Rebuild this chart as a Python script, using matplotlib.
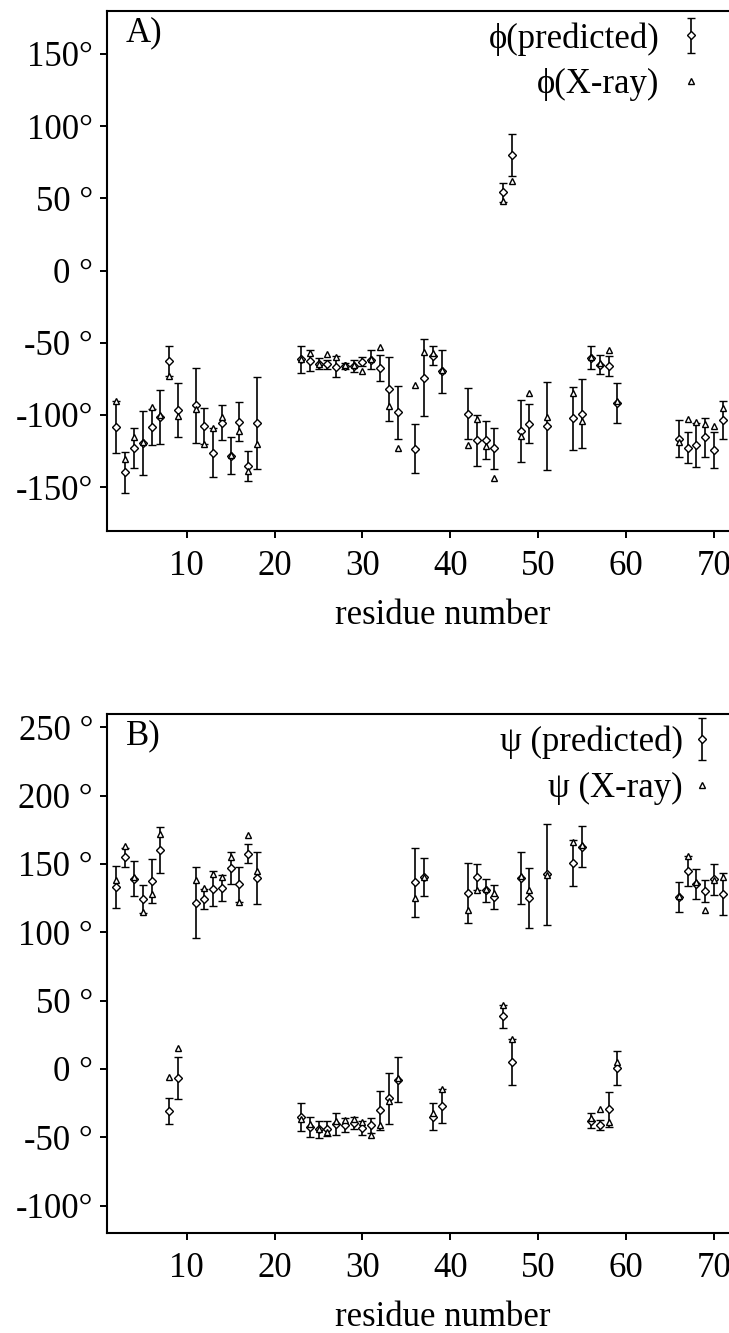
import matplotlib
matplotlib.use("Agg")
import matplotlib.pyplot as plt
from matplotlib.container import ErrorbarContainer
from matplotlib.legend_handler import HandlerErrorbar

plt.rcParams['font.family'] = ['Liberation Serif', 'DejaVu Serif']
plt.rcParams['font.size'] = 25

# ---- panel A: phi angles (degrees) ----
phi_res = [2, 3, 4, 5, 6, 7, 8, 9, 11, 12, 13, 14, 15, 16, 17, 18,
           23, 24, 25, 26, 27, 28, 29, 30, 31, 32, 33, 34, 36, 37, 38, 39,
           42, 43, 44, 45, 46, 47, 48, 49, 51, 54, 55, 56, 57, 58, 59,
           66, 67, 68, 69, 70, 71]
phi_pred = [-108.6, -139.8, -123.1, -119.4, -108.1, -101.6, -62.7, -96.5, -93.3, -107.7,
            -126.0, -105.4, -128.3, -104.6, -135.4, -105.8,
            -61.6, -62.4, -64.4, -65.0, -66.5, -66.2, -66.3, -63.3, -61.7, -67.7,
            -82.1, -98.3, -123.4, -74.1, -59.0, -69.7,
            -99.2, -117.6, -117.1, -123.2, 54.1, 79.9, -111.3, -106.0, -107.9,
            -102.4, -99.2, -60.4, -65.2, -66.0, -91.6,
            -116.5, -122.7, -120.7, -115.5, -124.0, -103.5]
phi_err = [18.0, 13.9, 13.8, 22.0, 12.5, 18.8, 10.4, 18.5, 26.0, 12.2,
           16.9, 12.0, 12.8, 13.3, 10.6, 31.8,
           9.5, 7.5, 3.5, 3.2, 7.5, 2.1, 4.3, 3.1, 6.6, 9.1,
           21.9, 18.5, 17.1, 26.6, 6.4, 14.8,
           17.6, 17.7, 13.1, 13.9, 6.4, 14.6, 21.6, 13.5, 30.4,
           21.9, 24.0, 7.8, 6.6, 7.0, 14.0,
           12.9, 10.6, 15.1, 13.3, 12.4, 13.3]
phi_xray = [-90.6, -130.6, -115.5, -118.5, -94.8, -100.1, -73.1, -101.0, -96.2, -119.9,
            -109.1, -101.2, -128.0, -111.4, -138.6, -119.9,
            -61.3, -57.2, -64.8, -57.9, -60.2, -65.5, -65.5, -69.4, -61.3, -52.8,
            -93.6, -122.9, -79.4, -56.7, -57.4, -68.9,
            -120.6, -102.9, -121.3, -143.7, 48.4, 62.3, -114.6, -85.1, -101.7,
            -84.9, -104.0, -60.2, -64.1, -54.9, -90.6,
            -118.5, -102.9, -104.7, -106.3, -107.9, -95.5]

# ---- panel B: psi angles (degrees) ----
psi_res = [2, 3, 4, 5, 6, 7, 8, 9, 11, 12, 13, 14, 15, 16, 17, 18,
           23, 24, 25, 26, 27, 28, 29, 30, 31, 32, 33, 34, 36, 37, 38, 39,
           42, 43, 44, 45, 46, 47, 48, 49, 51, 54, 55, 56, 57, 58, 59,
           66, 67, 68, 69, 70, 71]
psi_pred = [133.2, 155.0, 139.3, 124.3, 137.5, 160.5, -30.8, -6.7, 121.5, 124.4,
            131.9, 132.5, 146.8, 135.0, 157.6, 139.8,
            -35.1, -42.3, -44.2, -43.6, -40.5, -40.9, -39.6, -43.2, -41.2, -30.3,
            -21.5, -7.8, 136.5, 140.4, -35.0, -27.4,
            128.8, 140.5, 130.7, 125.9, 38.5, 5.2, 139.9, 124.9, 142.4,
            150.9, 162.7, -37.8, -41.2, -29.5, 0.8,
            126.1, 145.0, 135.1, 130.2, 138.7, 128.2]
psi_err = [15.6, 7.0, 12.5, 10.4, 16.3, 16.8, 9.7, 15.2, 25.9, 7.6,
           12.6, 9.6, 11.7, 13.0, 7.0, 19.3,
           10.3, 7.3, 6.1, 5.5, 8.0, 5.2, 4.6, 5.1, 5.5, 14.0,
           18.6, 16.3, 25.0, 13.8, 9.9, 12.4,
           21.7, 9.5, 8.3, 8.8, 8.3, 16.6, 19.2, 22.0, 37.0,
           16.8, 15.1, 5.3, 3.8, 12.8, 12.2,
           11.0, 10.9, 11.0, 8.2, 11.4, 15.5]
psi_xray = [138.3, 163.4, 140.7, 115.1, 128.0, 171.7, -6.1, 15.3, 138.3, 132.2,
            142.7, 140.7, 154.9, 122.0, 171.2, 144.9,
            -36.4, -40.5, -44.2, -46.1, -38.1, -37.6, -36.4, -38.8, -48.3, -41.3,
            -23.5, -6.6, 124.9, 140.7, -32.0, -15.0,
            116.3, 131.0, 131.5, 129.0, 46.8, 21.8, 141.2, 131.0, 142.0,
            166.3, 163.9, -35.7, -29.1, -38.8, 4.9,
            126.6, 155.9, 137.1, 116.3, 138.3, 140.7]

phi_yticks = [-150, -100, -50, 0, 50, 100, 150]
phi_yticklabels = ['-150°', '-100°', '-50 °', '0 °', '50 °', '100°', '150°']
psi_yticks = [-100, -50, 0, 50, 100, 150, 200, 250]
psi_yticklabels = ['-100°', '-50 °', '0 °', '50 °', '100 °', '150 °', '200 °', '250 °']
xticks = [10, 20, 30, 40, 50, 60, 70]


def draw_panel(ax, res, pred, err, xray, ylim, yticks, yticklabels, tag,
               labels, leg_x, leg_y, textpad, yerr_size):
    eb = ax.errorbar(res, pred, yerr=err, fmt='D', ms=3.6, mfc='white',
                     mec='black', mew=1.0, color='black', ecolor='black',
                     elinewidth=1.2, capsize=2.8, capthick=1.2, zorder=2)
    tri, = ax.plot(res, xray, '^', ms=5, mfc='white', mec='black', mew=1.0,
                   ls='none', zorder=3)

    ax.set_xlim(0.93, 71.7)
    ax.set_ylim(*ylim)
    ax.set_xticks(xticks)
    ax.set_xticklabels([str(t) for t in xticks])
    ax.set_yticks(yticks)
    ax.set_yticklabels(yticklabels)

    ax.spines['right'].set_visible(False)
    for s in ['left', 'bottom', 'top']:
        ax.spines[s].set_linewidth(1.5)
    ax.tick_params(axis='both', direction='out', length=5, width=1.4)
    ax.tick_params(axis='x', pad=9)
    ax.tick_params(axis='y', pad=5)

    ax.set_xlabel('residue number')
    ax.xaxis.set_label_coords(0.539, -0.131)

    ax.text(0.03, 0.958, tag, transform=ax.transAxes, ha='left', va='center')

    ax.legend([eb, tri], labels,
              handler_map={ErrorbarContainer: HandlerErrorbar(yerr_size=yerr_size)},
              markerfirst=False, frameon=False, loc='center right',
              bbox_to_anchor=(leg_x, leg_y), borderpad=0, borderaxespad=0,
              handlelength=1.0, handletextpad=textpad, labelspacing=0.36,
              numpoints=1)


fig = plt.figure(figsize=(7.29, 13.33), dpi=100)
ax_a = fig.add_axes([107 / 729, 1 - 530.5 / 1333, 622 / 729, 520 / 1333])
ax_b = fig.add_axes([107 / 729, 1 - 1233 / 1333, 622 / 729, 519 / 1333])

draw_panel(ax_a, phi_res, phi_pred, phi_err, phi_xray, (-180, 180),
           phi_yticks, phi_yticklabels, 'A)',
           ['ϕ(predicted)', 'ϕ(X-ray)'], 0.9666, 0.9017, 0.4, 0.5)
draw_panel(ax_b, psi_res, psi_pred, psi_err, psi_xray, (-120, 259.7),
           psi_yticks, psi_yticklabels, 'B)',
           ['ψ (predicted)', 'ψ (X-ray)'], 0.984, 0.9012, 0.05, 0.6)

fig.savefig('out.png', dpi=100)
